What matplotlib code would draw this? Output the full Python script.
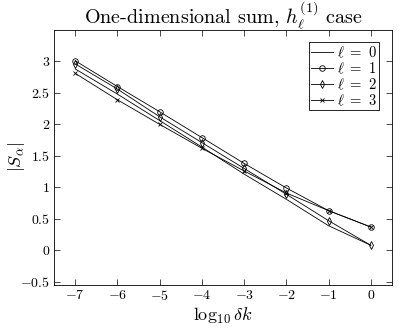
import numpy as np
import matplotlib.pyplot as plt

plt.rcParams['mathtext.fontset'] = 'cm'
plt.rcParams['font.family'] = 'serif'
plt.rcParams['font.serif'] = ['cmr10', 'DejaVu Serif']
plt.rcParams['axes.formatter.use_mathtext'] = True

log_dk = [-7, -6, -5, -4, -3, -2, -1, 0]
s_l0 = [2.88, 2.48, 2.06, 1.64, 1.21, 0.81, 0.39, 0.08]
s_l1 = [3.01, 2.60, 2.20, 1.79, 1.38, 0.99, 0.63, 0.37]
s_l2 = [2.96, 2.56, 2.12, 1.71, 1.30, 0.89, 0.47, 0.08]
s_l3 = [2.81, 2.39, 2.00, 1.62, 1.26, 0.91, 0.63, 0.37]

xtick_labels = ['$-7$', '$-6$', '$-5$', '$-4$', '$-3$', '$-2$', '$-1$', '$0$']
ytick_labels = ['$-0.5$', '$0$', '$0.5$', '$1$', '$1.5$', '$2$', '$2.5$', '$3$']

fig = plt.figure(figsize=(4.04, 3.36), dpi=100)
ax = fig.add_axes([0.134, 0.152, 0.836, 0.759])

lw = 0.6
ax.plot(log_dk, s_l0, '-', color='k', lw=lw, label=r'$\ell\ =\ 0$')
ax.plot(log_dk, s_l1, '-o', color='k', lw=lw, ms=4, mfc='none', mew=0.6, label=r'$\ell\ =\ 1$')
ax.plot(log_dk, s_l2, '-d', color='k', lw=lw, ms=4, mfc='none', mew=0.6, label=r'$\ell\ =\ 2$')
ax.plot(log_dk, s_l3, '-x', color='k', lw=lw, ms=3, mew=0.6, label=r'$\ell\ =\ 3$')

ax.set_xlim(-7.5, 0.5)
ax.set_ylim(-0.55, 3.5)
ax.set_xticks(np.arange(-7, 1))
ax.set_yticks(np.arange(-0.5, 3.01, 0.5))
ax.set_yticklabels(ytick_labels)
ax.set_xticklabels(xtick_labels)
ax.tick_params(direction='in', top=True, right=True, labelsize=10, length=4, width=0.5, pad=3)
for s in ax.spines.values():
    s.set_linewidth(0.6)

ax.set_title(r'One-dimensional sum, $h_\ell^{(1)}$ case', fontsize=14.5, pad=4)
ax.set_xlabel(r'$\log_{10}\delta k$', fontsize=13, labelpad=2)
ax.set_ylabel(r'$|S_\alpha|$', fontsize=13)
ax.yaxis.set_label_coords(-0.08, 0.5)

leg = ax.legend(loc='upper right', fontsize=10.5, fancybox=False, edgecolor='k',
                framealpha=1, borderpad=0.15, labelspacing=0.05, handlelength=1.5,
                handletextpad=0.3, borderaxespad=0.85)
leg.get_frame().set_linewidth(0.6)

fig.savefig('out.png', dpi=100)
